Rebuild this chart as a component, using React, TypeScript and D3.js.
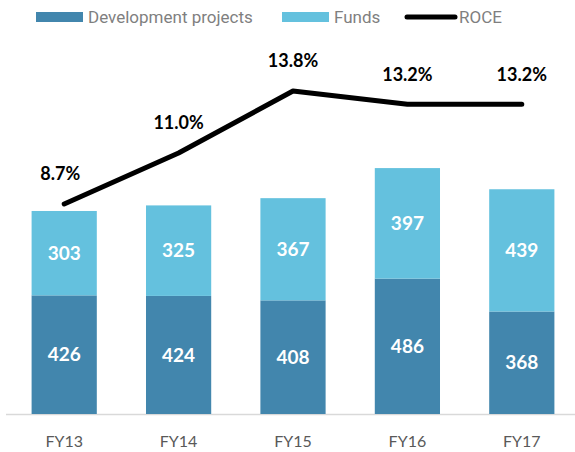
import { useEffect, useRef } from 'react';
import * as d3 from 'd3';

const years = ['FY13', 'FY14', 'FY15', 'FY16', 'FY17'];
const devProjects = [426, 424, 408, 486, 368];
const funds = [303, 325, 367, 397, 439];
const roce = [8.7, 11.0, 13.8, 13.2, 13.2];

export default function App() {
  const svgRef = useRef<SVGSVGElement>(null);

  useEffect(() => {
    if (!svgRef.current) return;
    const svg = d3.select(svgRef.current);
    svg.selectAll('*').remove();

    const width = 575;
    const height = 452;
    const baseY = 414;
    const devColor = '#4286ad';
    const fundColor = '#64c1de';
    const labelFont = "Lato, 'Open Sans', sans-serif";

    const x = d3.scaleBand<string>().domain(years).range([7, 579]).paddingInner(0.43).paddingOuter(0.215);
    const y = d3.scaleLinear().domain([0, 1000]).range([baseY, baseY - 278.5]);
    const yR = d3.scaleLinear().domain([8.7, 13.8]).range([204, 91]);

    // axis line
    svg.append('line')
      .attr('x1', 6).attr('x2', width)
      .attr('y1', baseY + 0.5).attr('y2', baseY + 0.5)
      .attr('stroke', '#d9d9d9').attr('stroke-width', 1.5);

    // bars
    years.forEach((yr, i) => {
      const bx = x(yr)!;
      const bw = x.bandwidth();
      const d = devProjects[i];
      const f = funds[i];
      svg.append('rect')
        .attr('x', bx).attr('y', y(d)).attr('width', bw).attr('height', y(0) - y(d))
        .attr('fill', devColor);
      svg.append('rect')
        .attr('x', bx).attr('y', y(d + f)).attr('width', bw).attr('height', y(d) - y(d + f))
        .attr('fill', fundColor);
      svg.append('text')
        .attr('x', bx + bw / 2).attr('y', (y(0) + y(d)) / 2).attr('dy', '0.35em')
        .attr('text-anchor', 'middle').attr('fill', '#fff')
        .attr('font-family', labelFont).attr('font-weight', 700).attr('font-size', 19)
        .text(d);
      svg.append('text')
        .attr('x', bx + bw / 2).attr('y', (y(d) + y(d + f)) / 2).attr('dy', '0.35em')
        .attr('text-anchor', 'middle').attr('fill', '#fff')
        .attr('font-family', labelFont).attr('font-weight', 700).attr('font-size', 19)
        .text(f);
      svg.append('text')
        .attr('x', bx + bw / 2).attr('y', 441).attr('dy', '0.35em')
        .attr('text-anchor', 'middle').attr('fill', '#595959')
        .attr('font-family', labelFont).attr('font-size', 16)
        .text(yr);
    });

    // ROCE line
    const line = d3.line<number>()
      .x((_, i) => x(years[i])! + x.bandwidth() / 2)
      .y((v) => yR(v));
    svg.append('path')
      .datum(roce)
      .attr('d', line)
      .attr('fill', 'none')
      .attr('stroke', '#000')
      .attr('stroke-width', 5)
      .attr('stroke-linecap', 'round')
      .attr('stroke-linejoin', 'round');

    roce.forEach((v, i) => {
      svg.append('text')
        .attr('x', x(years[i])! + x.bandwidth() / 2 - (i === 0 ? 4 : 0))
        .attr('y', yR(v) - 30).attr('dy', '0.35em')
        .attr('text-anchor', 'middle').attr('fill', '#000')
        .attr('font-family', labelFont).attr('font-weight', 700).attr('font-size', 18)
        .text(`${v.toFixed(1)}%`);
    });

    // legend
    const legendFont = "Roboto, 'Open Sans', sans-serif";
    const lg = svg.append('g').attr('font-family', legendFont).attr('font-size', 17).attr('fill', '#7f7f7f');
    lg.append('rect').attr('x', 36).attr('y', 12).attr('width', 47).attr('height', 10).attr('fill', devColor);
    lg.append('text').attr('x', 88).attr('y', 17).attr('dy', '0.35em').text('Development projects');
    lg.append('rect').attr('x', 282).attr('y', 12).attr('width', 47).attr('height', 10).attr('fill', fundColor);
    lg.append('text').attr('x', 334).attr('y', 17).attr('dy', '0.35em').text('Funds');
    lg.append('line').attr('x1', 407).attr('x2', 455).attr('y1', 17).attr('y2', 17)
      .attr('stroke', '#000').attr('stroke-width', 5).attr('stroke-linecap', 'round');
    lg.append('text').attr('x', 459).attr('y', 17).attr('dy', '0.35em').text('ROCE');
  }, []);

  return (
    <svg
      ref={svgRef}
      width={575}
      height={452}
      style={{ position: 'absolute', left: 0, top: 0, display: 'block' }}
    />
  );
}
